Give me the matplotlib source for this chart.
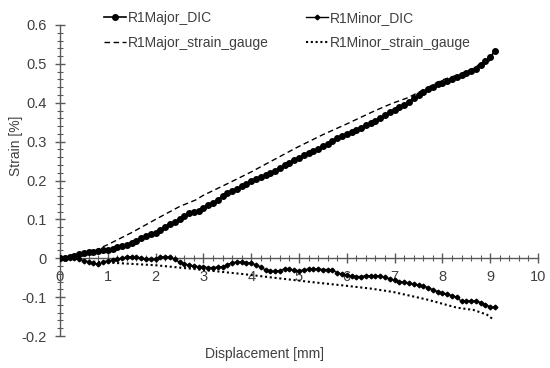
import matplotlib
matplotlib.use("Agg")
import matplotlib.pyplot as plt
from matplotlib.ticker import MultipleLocator

plt.rcParams['font.family'] = ['Liberation Sans Narrow', 'Liberation Sans', 'DejaVu Sans']

# Displacement [mm] for the DIC series
disp_dic = [0.0, 0.1, 0.2, 0.3, 0.4, 0.5, 0.6, 0.7, 0.8, 0.9,
            1.0, 1.1, 1.2, 1.3, 1.4, 1.5, 1.6, 1.7, 1.8, 1.9,
            2.0, 2.1, 2.2, 2.3, 2.4, 2.5, 2.6, 2.7, 2.8, 2.9,
            3.0, 3.1, 3.2, 3.3, 3.4, 3.5, 3.6, 3.7, 3.8, 3.9,
            4.0, 4.1, 4.2, 4.3, 4.4, 4.5, 4.6, 4.7, 4.8, 4.9,
            5.0, 5.1, 5.2, 5.3, 5.4, 5.5, 5.6, 5.7, 5.8, 5.9,
            6.0, 6.1, 6.2, 6.3, 6.4, 6.5, 6.6, 6.7, 6.8, 6.9,
            7.0, 7.1, 7.2, 7.3, 7.4, 7.5, 7.6, 7.7, 7.8, 7.9,
            8.0, 8.1, 8.2, 8.3, 8.4, 8.5, 8.6, 8.7, 8.8, 8.9,
            9.0, 9.1]

major_dic = [0.000, 0.001, 0.003, 0.006, 0.010, 0.013, 0.016, 0.017, 0.018, 0.020,
             0.022, 0.025, 0.028, 0.031, 0.035, 0.040, 0.045, 0.051, 0.058, 0.062,
             0.064, 0.072, 0.081, 0.088, 0.094, 0.100, 0.108, 0.116, 0.119, 0.122,
             0.128, 0.136, 0.143, 0.150, 0.160, 0.168, 0.174, 0.178, 0.186, 0.192,
             0.198, 0.203, 0.208, 0.214, 0.219, 0.225, 0.232, 0.239, 0.246, 0.253,
             0.259, 0.265, 0.271, 0.276, 0.282, 0.288, 0.295, 0.302, 0.309, 0.314,
             0.319, 0.325, 0.331, 0.336, 0.342, 0.348, 0.354, 0.361, 0.369, 0.376,
             0.382, 0.389, 0.395, 0.402, 0.411, 0.420, 0.428, 0.435, 0.441, 0.447,
             0.452, 0.457, 0.462, 0.467, 0.472, 0.476, 0.481, 0.487, 0.497, 0.507,
             0.518, 0.533]

minor_dic = [0.000, 0.001, 0.002, 0.000, -0.003, -0.006, -0.009, -0.013, -0.015, -0.010,
             -0.006, -0.005, -0.003, 0.000, 0.003, 0.004, 0.003, 0.000, -0.003, -0.003,
             -0.002, 0.002, 0.004, 0.003, -0.003, -0.010, -0.015, -0.018, -0.020, -0.022,
             -0.023, -0.024, -0.024, -0.023, -0.022, -0.017, -0.011, -0.010, -0.010, -0.011,
             -0.013, -0.017, -0.023, -0.030, -0.033, -0.034, -0.032, -0.027, -0.028, -0.031,
             -0.032, -0.030, -0.028, -0.027, -0.028, -0.029, -0.029, -0.031, -0.037, -0.041,
             -0.044, -0.046, -0.047, -0.047, -0.045, -0.045, -0.045, -0.046, -0.049, -0.053,
             -0.057, -0.060, -0.062, -0.064, -0.066, -0.069, -0.071, -0.076, -0.081, -0.086,
             -0.089, -0.093, -0.096, -0.100, -0.111, -0.110, -0.110, -0.110, -0.114, -0.119,
             -0.125, -0.126]

# Strain gauge series
disp_major_sg = [0.0, 0.3, 0.6, 0.87, 1.0, 1.5, 2.0, 2.5, 2.84, 3.0, 3.54, 4.0, 4.24,
                 4.5, 4.94, 5.5, 5.99, 6.58, 6.94, 7.28, 7.63, 7.98, 8.33, 8.68,
                 8.9, 8.96, 9.0, 9.1]
major_sg = [0.000, 0.001, 0.010, 0.028, 0.035, 0.066, 0.100, 0.133, 0.150, 0.162,
            0.194, 0.222, 0.238, 0.255, 0.284, 0.318, 0.345, 0.379, 0.398, 0.413,
            0.435, 0.458, 0.472, 0.490, 0.512, 0.502, 0.515, 0.535]

disp_minor_sg = [0.0, 0.3, 0.6, 1.0, 2.0, 3.0, 3.85, 4.54, 5.24, 5.93, 6.5, 6.98,
                 7.67, 8.3, 8.65, 8.93, 9.07]
minor_sg = [0.000, 0.000, -0.008, -0.011, -0.018, -0.030, -0.041, -0.051, -0.061,
            -0.070, -0.078, -0.087, -0.106, -0.127, -0.133, -0.145, -0.158]

labels = ['R1Major_DIC', 'R1Major_strain_gauge', 'R1Minor_DIC', 'R1Minor_strain_gauge']
x_ticks = [0, 1, 2, 3, 4, 5, 6, 7, 8, 9, 10]
y_ticks = [-0.2, -0.1, 0, 0.1, 0.2, 0.3, 0.4, 0.5, 0.6]

text_col = '#404040'
axis_col = '#595959'
fs = 10

fig = plt.figure(figsize=(5.5, 3.68), dpi=100)
ax = fig.add_axes([60/550, 1-336/368, 478/550, 311/368])

h1, = ax.plot(disp_dic, major_dic, color='black', lw=1.2, marker='o', ms=4.0,
              label=labels[0], zorder=4)
h2, = ax.plot(disp_major_sg, major_sg, color='black', lw=1.0, ls=(0, (4, 2.5)),
              label=labels[1], zorder=3)
h3, = ax.plot(disp_dic, minor_dic, color='black', lw=1.0, marker='D', ms=2.4,
              label=labels[2], zorder=4)
h4, = ax.plot(disp_minor_sg, minor_sg, color='black', lw=1.5, ls=(0, (1, 1.3)),
              label=labels[3], zorder=3)

ax.set_xlim(0, 10)
ax.set_ylim(-0.2, 0.6)
ax.set_xticks(x_ticks)
ax.set_yticks(y_ticks)
ax.set_xticklabels([str(v) for v in x_ticks])
ax.set_yticklabels(['0' if v == 0 else f'{v:g}' for v in y_ticks])
ax.xaxis.set_minor_locator(MultipleLocator(0.2))
ax.yaxis.set_minor_locator(MultipleLocator(0.02))

for s in ['top', 'right']:
    ax.spines[s].set_visible(False)
ax.spines['bottom'].set_position(('data', 0))
ax.spines['left'].set_position(('data', 0))
for s in ['bottom', 'left']:
    ax.spines[s].set_color(axis_col)
    ax.spines[s].set_linewidth(1.0)

ax.tick_params(which='major', direction='inout', length=7, width=1.0,
               color=axis_col, labelcolor=text_col, labelsize=fs + 0.5)
ax.tick_params(which='minor', direction='inout', length=4, width=0.8, color=axis_col)
ax.tick_params(axis='x', which='major', pad=5)
ax.tick_params(axis='y', which='major', pad=6)

ax.set_ylabel('Strain [%]', fontsize=fs, color=text_col)
ax.yaxis.set_label_coords(-0.092, 0.61)
ax.set_xlabel('Displacement [mm]', fontsize=fs, color=text_col)
ax.xaxis.set_label_coords(0.427, -0.058)
ax.xaxis.label.set_va('center')
ax.yaxis.label.set_va('center')

leg_kw = dict(loc='upper left', frameon=False, fontsize=fs, handlelength=1.6,
              handletextpad=0.15, labelspacing=0.8, borderaxespad=0, borderpad=0)
leg1 = fig.legend(handles=[h1, h2], bbox_to_anchor=(104/550, 1 - 11/368), **leg_kw)
leg2 = fig.legend(handles=[h3, h4], bbox_to_anchor=(306/550, 1 - 11/368), **leg_kw)
for lg in (leg1, leg2):
    for t in lg.get_texts():
        t.set_color(text_col)

fig.savefig('out.png', dpi=100)
